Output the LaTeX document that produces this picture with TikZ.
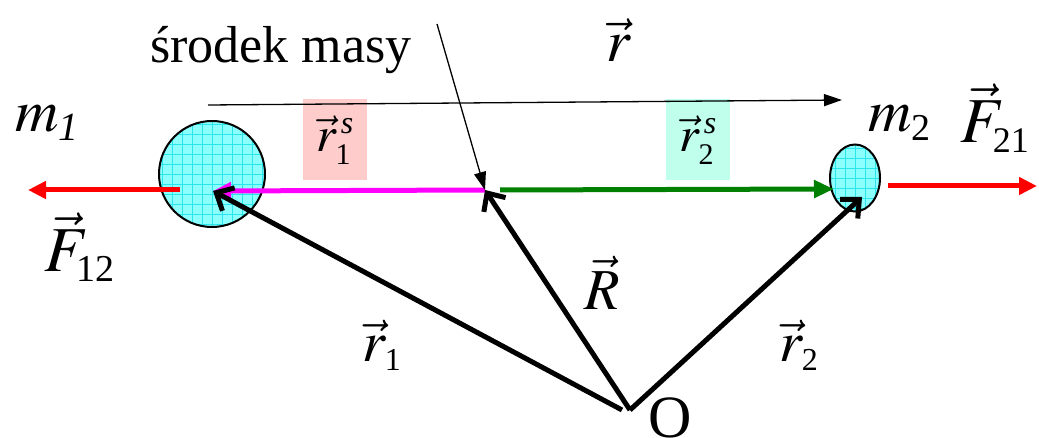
\documentclass[tikz,border=0pt]{standalone}
\usepackage{mathptmx}
\usepackage[no-math]{fontspec}
\setmainfont{Liberation Serif}
\newfontfamily\labfont{Liberation Serif}
\usetikzlibrary{arrows.meta,shapes.geometric}
\definecolor{massFill}{RGB}{140,255,255}
\definecolor{massGrid}{RGB}{40,230,235}
\definecolor{boxPink}{RGB}{255,204,204}
\definecolor{boxAqua}{RGB}{191,255,236}
\definecolor{forceRed}{RGB}{255,0,0}
\definecolor{partMagenta}{RGB}{255,0,255}
\definecolor{partGreen}{RGB}{0,128,0}
\newcommand{\lsub}[2]{\mbox{\labfont\fontsize{#1}{#1}\selectfont #2}}
\tikzset{
  mass/.style={
    draw,
    line width=2pt,
    fill=massFill,
    inner sep=0pt,
    path picture={\draw[massGrid, line width=0.7pt, step=10pt]
      (path picture bounding box.south west) grid (path picture bounding box.north east);}
  },
  vlab/.style={
    inner sep=0pt,
    anchor=base west,
    font=\labfont\fontsize{60}{60}\selectfont
  },
  partbox/.style={
    inner sep=0pt,
    minimum width=64pt,
    minimum height=81pt,
    font=\labfont\fontsize{50}{50}\selectfont
  },
  forcearrow/.style={
    -{Triangle[length=18pt,width=17pt]},
    line width=5pt,
    draw=forceRed
  },
  partarrow/.style={
    -{Triangle[length=20pt,width=17pt]},
    line width=5pt
  },
  posarrow/.style={
    -{Straight Barb[length=14pt,width=26pt]},
    line width=5pt
  },
  thinarrow/.style={
    -{Triangle[length=18pt,width=12pt]},
    line width=1.3pt
  }
}
\begin{document}
\begin{tikzpicture}[x=1pt, y=-1pt]
  \useasboundingbox (0,0) rectangle (1039,438);

  \node[mass, circle, minimum size=106pt] (m1) at (212,174) {};
  \node[mass, ellipse, minimum width=50pt, minimum height=67pt] (m2) at (855,178) {};

  \node[partbox, fill=boxPink] (r1s) at (335,140) {$\vec r_{\lsub{30}{1}}^{\,\lsub{32}{\itshape s}}$};
  \node[partbox, fill=boxAqua] (r2s) at (698,140) {$\vec r_{\lsub{30}{2}}^{\,\lsub{32}{\itshape s}}$};

  \coordinate (cm) at (485,190);
  \coordinate (O) at (630,410);
  \coordinate (O1) at (622,410);
  \coordinate (m1c) at (213,191);
  \coordinate (m2c) at (862,197);
  \coordinate (f12a) at (180,190);
  \coordinate (f12b) at (28,190);
  \coordinate (f21a) at (888,186);
  \coordinate (f21b) at (1037,186);
  \coordinate (rs) at (208,105);
  \coordinate (re) at (842,100);
  \coordinate (ptr) at (437,24);
  \coordinate (cm2) at (500,190);
  \coordinate (m2w) at (834,189);

  \draw[forcearrow] (f12a) -- (f12b);
  \draw[forcearrow] (f21a) -- (f21b);
  \draw[partarrow, draw=partMagenta, -{Triangle[length=18pt,width=17pt]}] (cm) -- (m1c);
  \draw[partarrow, draw=partGreen] (cm2) -- (m2w);
  \draw[thinarrow] (rs) -- (re);
  \draw[thinarrow] (ptr) -- (cm);
  \draw[posarrow] (O1) -- (m1c);
  \draw[posarrow] (O) -- (cm);
  \draw[posarrow] (O) -- (m2c);

  \node[inner sep=0pt, anchor=base west, font=\labfont\fontsize{52}{52}\selectfont] (cmlab) at (150,63) {środek masy};
  \node[vlab] (rlab) at (606,62) {$\vec r$};
  \node[vlab] (m1lab) at (15,132) {$m_{\lsub{40}{\itshape 1}}$};
  \node[vlab] (m2lab) at (868,132) {$m_{\lsub{38}{2}}$};
  \node[vlab, font=\labfont\fontsize{64}{64}\selectfont] (f12lab) at (44,272) {$\vec F_{\lsub{38}{12}}$};
  \node[vlab, font=\labfont\fontsize{64}{64}\selectfont] (f21lab) at (960,143) {$\vec F_{\lsub{36}{21}}$};
  \node[vlab, font=\labfont\fontsize{58}{58}\selectfont] (Rlab) at (584,310) {$\vec R$};
  \node[vlab, font=\labfont\fontsize{58}{58}\selectfont] (r1lab) at (362,362) {$\vec r_{\lsub{32}{1}}$};
  \node[vlab, font=\labfont\fontsize{58}{58}\selectfont] (r2lab) at (779,362) {$\vec r_{\lsub{32}{2}}$};
  \node[vlab] (Olab) at (648,437) {O};
\end{tikzpicture}
\end{document}
